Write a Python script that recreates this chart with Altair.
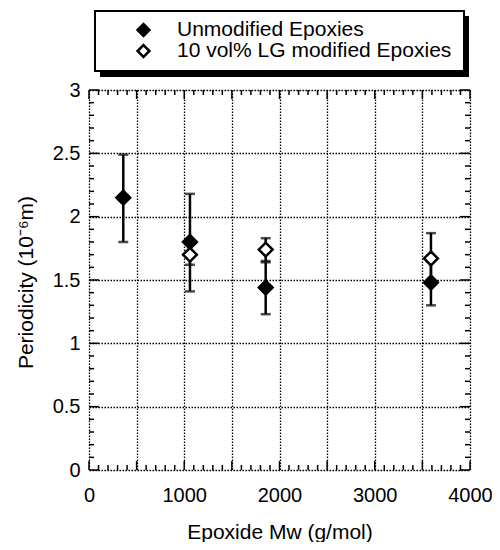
import altair as alt
import pandas as pd

# ---- data ----
mw_unmod = [360, 1060, 1855, 3590]
per_unmod = [2.15, 1.80, 1.44, 1.48]
lo_unmod = [1.80, 1.41, 1.23, 1.30]
hi_unmod = [2.49, 2.18, 1.64, 1.66]

mw_mod = [1060, 1855, 3590]
per_mod = [1.70, 1.74, 1.67]
lo_mod = [1.62, 1.65, 1.47]
hi_mod = [1.78, 1.83, 1.87]

series_names = ["Unmodified Epoxies", "10 vol% LG modified Epoxies"]

x_major = [0, 500, 1000, 1500, 2000, 2500, 3000, 3500, 4000]
x_minor = [v for v in range(0, 4001, 100) if v % 500 != 0]
y_major = [0, 0.5, 1, 1.5, 2, 2.5, 3]
y_minor = [round(i * 0.1, 1) for i in range(31) if i % 5 != 0]

W, H = 381, 380
FONT = "Liberation Sans"

pts = pd.concat([
    pd.DataFrame({"mw": mw_unmod, "p": per_unmod, "lo": lo_unmod, "hi": hi_unmod,
                  "series": series_names[0]}),
    pd.DataFrame({"mw": mw_mod, "p": per_mod, "lo": lo_mod, "hi": hi_mod,
                  "series": series_names[1]}),
], ignore_index=True)

xs = alt.Scale(domain=[0, 4000], nice=False, zero=False)
ys = alt.Scale(domain=[0, 3], nice=False, zero=False)

x_axis = alt.Axis(values=x_major, labelExpr="datum.value % 1000 == 0 ? datum.label : ''",
                  format="d", grid=True, gridColor="black", gridDash=[1.5, 1.5], gridWidth=1.3,
                  ticks=False, domain=False, labelFlush=False, labelFont=FONT, labelFontSize=20,
                  labelColor="black", labelPadding=15, title="Epoxide Mw (g/mol)",
                  titleFont=FONT, titleFontSize=21, titleFontWeight="normal", titleColor="black",
                  titleY=68, titleBaseline="alphabetic")
y_axis = alt.Axis(values=y_major, format="~g", grid=True, gridColor="black",
                  gridDash=[1.5, 1.5], gridWidth=1.3, ticks=False, domain=False,
                  labelFlush=False, labelFont=FONT, labelFontSize=20, labelColor="black",
                  labelPadding=9, title="Periodicity (10⁻⁶m)", titleFont=FONT, titleFontSize=21,
                  titleFontWeight="normal", titleColor="black", titleX=-57, titleY=192,
                  titleAngle=270, titleAlign="center", titleBaseline="alphabetic")

one = pd.DataFrame({"a": [0]})

shadow = alt.Chart(one).mark_rect(color="black").encode(
    x=alt.value(11), x2=alt.value(380), y=alt.value(-74), y2=alt.value(-13))
box = alt.Chart(one).mark_rect(fill="white", stroke="black", strokeWidth=2).encode(
    x=alt.value(6), x2=alt.value(375), y=alt.value(-79), y2=alt.value(-19))

bars = alt.Chart(pts).mark_rule(color="black", strokeWidth=2.5).encode(
    x=alt.X("mw:Q", scale=xs, axis=x_axis),
    y=alt.Y("lo:Q", scale=ys, axis=y_axis),
    y2="hi:Q")
caps_lo = alt.Chart(pts).mark_tick(color="black", orient="horizontal", size=10, thickness=2.5).encode(
    x=alt.X("mw:Q", scale=xs, axis=x_axis), y=alt.Y("lo:Q", scale=ys, axis=y_axis))
caps_hi = alt.Chart(pts).mark_tick(color="black", orient="horizontal", size=10, thickness=2.5).encode(
    x=alt.X("mw:Q", scale=xs, axis=x_axis), y=alt.Y("hi:Q", scale=ys, axis=y_axis))

points = alt.Chart(pts).mark_point(shape="diamond", filled=True, stroke="black",
                                   strokeWidth=2.5, opacity=1, size=190).encode(
    x=alt.X("mw:Q", scale=xs, axis=x_axis),
    y=alt.Y("p:Q", scale=ys, axis=y_axis),
    fill=alt.Fill("series:N", scale=alt.Scale(domain=series_names, range=["black", "white"]),
                  legend=alt.Legend(title=None, orient="none", legendX=44, legendY=-69,
                                    zindex=2, clipHeight=18,
                                    symbolType="diamond", symbolSize=140,
                                    symbolStrokeColor="black", symbolStrokeWidth=2.5,
                                    labelFont=FONT, labelFontSize=21, labelColor="black",
                                    labelLimit=400, labelOffset=23, rowPadding=0, padding=0)),
)

def tick_layer(vals, field, horizontal, length, side):
    df = pd.DataFrame({field: vals})
    if horizontal:  # x ticks
        if side == "bottom":
            yy, yy2 = alt.value(H), alt.value(H - length)
        else:
            yy, yy2 = alt.value(0), alt.value(length)
        return alt.Chart(df).mark_rule(color="black", strokeWidth=1.5).encode(
            x=alt.X(f"{field}:Q", scale=xs, axis=x_axis), y=yy, y2=yy2)
    else:
        if side == "left":
            xx, xx2 = alt.value(0), alt.value(length)
        else:
            xx, xx2 = alt.value(W), alt.value(W - length)
        return alt.Chart(df).mark_rule(color="black", strokeWidth=1.5).encode(
            y=alt.Y(f"{field}:Q", scale=ys, axis=y_axis), x=xx, x2=xx2)

ticks = []
for side in ["bottom", "top"]:
    ticks.append(tick_layer(x_major, "tx", True, 9, side))
    ticks.append(tick_layer(x_minor, "tx", True, 5, side))
for side in ["left", "right"]:
    ticks.append(tick_layer(y_major, "ty", False, 10, side))
    ticks.append(tick_layer(y_minor, "ty", False, 5, side))

chart = alt.layer(shadow, box, bars, *ticks, caps_lo, caps_hi, points).properties(
    width=W, height=H, autosize="none",
    padding={"left": 81, "top": 82, "right": 22, "bottom": 72},
).configure_view(stroke="black", strokeWidth=2).configure(background="white")

chart.save("out.html", embed_options={"renderer": "svg", "actions": False})
